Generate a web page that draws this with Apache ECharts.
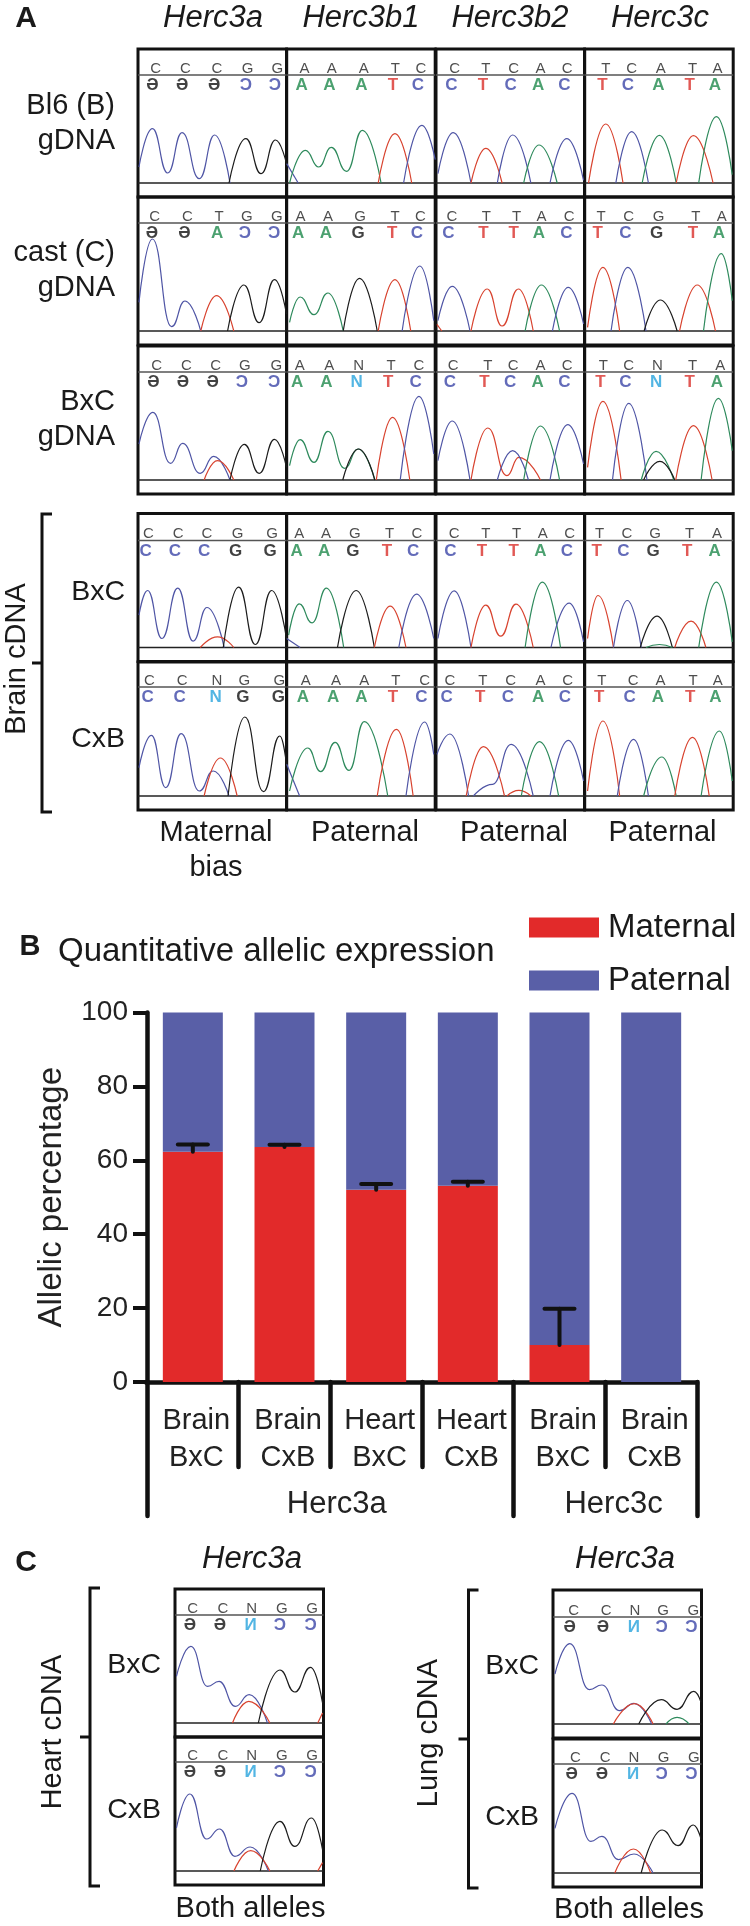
<!DOCTYPE html>
<html><head><meta charset="utf-8">
<style>html,body{margin:0;padding:0;background:#fff}#c{width:750px;height:1926px}</style>
<script src="https://cdn.jsdelivr.net/npm/echarts@6/dist/echarts.min.js"></script>
</head><body><div id="c"></div>
<script>
// ---- Panel B data ----
const barCategories = ['Brain\nBxC','Brain\nCxB','Heart\nBxC','Heart\nCxB','Brain\nBxC','Brain\nCxB'];
const maternal = [62.3,63.6,52,53.1,10,0];
const paternal = [37.7,36.4,48,46.9,90,100];
const errorTop = [64.3,64.2,53.6,54.2,19.8,null];
const geneGroups = ['Herc3a','Herc3c'];

// ---- Chromatogram traces: [colour code, [x,height,...]] ----
const bl6_3a = [['b',[2,48,30,163,62,30,92,151,128,13,160,144,192,0]],['k',[190,0,225,133,257,28,287,129,310,58]]];
const bl6_3b1 = [['b',[0,58,24,0]],['g',[6,0,39,98,67,48,93,107,125,35,158,158,197,0]],['r',[191,0,226,148,261,0]],['b',[244,0,282,173,310,70]]];
const bl6_3b2 = [['b',[4,28,36,151,73,0]],['r',[73,0,104,104,138,0]],['b',[128,0,160,144,198,0]],['g',[183,0,215,114,253,0]],['b',[238,0,273,133,308,8]]];
const bl6_3c = [['r',[8,0,44,177,80,0]],['b',[65,0,98,154,133,0]],['g',[120,0,156,143,191,0]],['r',[191,0,227,142,268,0]],['g',[238,0,275,199,308,25]]];

const cast_3a = [['b',[2,86,30,276,70,13,98,90,131,0]],['r',[131,0,164,106,200,0]],['k',[187,0,221,138,253,25,285,154,310,51]]];
const cast_3b1 = [['g',[6,26,28,102,57,49,86,114,118,0]],['k',[118,0,152,158,189,0]],['r',[191,0,226,154,259,0]],['b',[241,0,278,195,307,31]]];
const cast_3b2 = [['r',[2,20,12,0]],['b',[4,31,34,134,71,0]],['r',[73,0,107,126,138,15,172,126,203,0]],['g',[186,0,220,138,258,0]],['b',[243,0,276,131,308,21]]];
const cast_3c = [['r',[6,11,38,191,73,0]],['b',[55,0,90,191,128,0]],['k',[124,0,158,93,193,0]],['r',[198,0,235,138,273,0]],['g',[248,0,285,232,308,91]]];

const bxc_3a = [['b',[2,108,31,203,68,50,93,110,130,20,158,71,192,0]],['r',[138,0,166,58,200,0]],['k',[192,0,222,107,253,20,285,122,310,38]]];
const bxc_3b1 = [['g',[6,43,28,121,57,53,86,146,121,35,149,93,184,0]],['k',[117,0,150,93,184,0]],['r',[187,0,221,188,257,0]],['b',[237,0,276,251,307,78]]];
const bxc_3b2 = [['b',[4,58,34,177,71,0]],['r',[73,0,108,156,148,13,173,68,218,0]],['b',[128,0,160,88,193,0]],['g',[183,0,218,162,258,0]],['b',[238,0,275,166,308,48]]];
const bxc_3c = [['r',[6,38,38,236,76,0]],['b',[58,0,92,230,130,0]],['g',[118,0,149,86,186,0]],['k',[123,0,157,56,188,0]],['r',[190,0,227,163,266,0]],['g',[243,0,279,245,308,88]]];

const cBxc_3a = [['b',[2,97,20,171,50,27,83,178,115,19,144,120,180,0]],['r',[130,0,166,32,200,0]],['k',[178,0,210,181,245,9,279,171,310,27]]];
const cBxc_3b1 = [['b',[0,27,28,0]],['g',[4,37,26,131,53,74,83,178,119,0]],['k',[106,0,145,171,183,0]],['r',[183,0,216,124,249,0]],['b',[234,0,271,160,307,27]]];
const cBxc_3b2 = [['b',[4,27,38,170,73,0]],['r',[73,0,104,127,135,34,167,130,203,0]],['g',[186,0,222,196,260,0]],['b',[240,0,278,133,308,17]]];
const cBxc_3c = [['r',[6,27,28,156,60,0]],['b',[60,0,89,141,118,0]],['k',[116,0,151,94,183,0]],['g',[128,0,156,9,183,0]],['r',[188,0,222,79,253,0]],['g',[238,0,275,196,308,17]]];

const cCxb_3a = [['b',[2,85,28,182,58,25,90,187,128,15,157,75,190,0]],['r',[138,0,172,114,207,0]],['k',[188,0,223,237,262,13,296,180,310,95]]];
const cCxb_3b1 = [['b',[0,95,27,0]],['g',[6,15,44,144,71,73,101,161,130,77,162,223,211,0]],['r',[189,0,229,200,264,0]],['b',[249,0,288,222,307,125]]];
const cCxb_3b2 = [['b',[2,125,29,186,68,0]],['r',[63,0,99,148,143,0]],['b',[78,0,118,35,157,155,203,0]],['r',[148,0,173,17,198,0]],['g',[178,0,216,163,256,0]],['b',[238,0,276,167,308,45]]];
const cCxb_3c = [['r',[6,15,38,225,73,0]],['b',[68,0,102,170,133,0]],['g',[123,0,161,117,191,0]],['r',[188,0,225,176,260,0]],['g',[243,0,281,195,308,45]]];

const heartBxc = [['b',[3,140,33,230,68,110,92,125,126,50,155,85,193,0]],['r',[120,0,154,65,198,0]],['k',[174,0,219,159,250,93,283,167,308,60]],['r',[298,0,308,30]]];
const heartCxb = [['b',[3,129,31,231,66,96,93,126,125,44,157,72,195,0]],['r',[123,0,158,61,198,0]],['k',[178,0,219,149,250,74,285,159,308,64]],['r',[298,0,308,25]]];
const lungBxc = [['b',[4,150,35,241,76,103,102,117,139,40,169,62,206,0]],['r',[126,0,170,61,209,0]],['k',[179,0,226,73,259,44,294,98,309,65]],['g',[236,0,259,20,284,0]]];
const lungCxb = [['b',[4,134,40,239,79,95,102,110,137,40,169,57,209,0]],['r',[129,0,168,72,204,0]],['k',[184,0,228,129,261,82,293,144,309,102]]];

// ---- Base-call letters: [upper letters, upper x, lower letters, lower x] ----
const seqs = [
 ['CCCGG',[37,99,165,229,291],'ӘӘӘƆƆ',[30,92,159,225,286]],
 ['AAATC',[37,94,161,227,280],'AAATC',[31,89,156,222,274]],
 ['CTCAC',[39,104,162,218,274],'CTCAC',[32,98,156,213,268]],
 ['TCATA',[44,98,159,225,277],'TCATA',[37,90,154,219,272]],
 ['CCTGG',[35,103,169,227,290],'ӘӘAƆƆ',[29,97,165,223,284]],
 ['AAGTC',[29,86,153,226,279],'AAGTC',[24,82,149,220,272]],
 ['CTTAC',[33,105,168,220,278],'CTTAC',[26,99,162,215,272]],
 ['TCGTA',[34,92,154,232,286],'TCGTA',[27,85,150,226,280]],
 ['CCCGG',[39,101,162,223,289],'ӘӘӘƆƆ',[32,94,156,217,284]],
 ['AANTC',[27,89,150,218,276],'AANTC',[22,83,146,212,269]],
 ['CTCAC',[36,108,161,218,274],'CTCAC',[29,101,155,212,268]],
 ['TCNTA',[39,92,152,225,283],'TCNTA',[33,85,149,219,276]],
 ['CCCGG',[22,84,144,208,280],'CCCGG',[16,77,138,204,276]],
 ['AAGTC',[26,82,142,215,272],'AAGTC',[21,78,138,209,264]],
 ['CTTAC',[38,104,168,223,279],'CTTAC',[30,96,162,218,273]],
 ['TCGTA',[31,88,147,219,276],'TCGTA',[25,81,143,214,271]],
 ['CCNGG',[24,92,165,222,295],'CCNGG',[20,87,162,219,293]],
 ['AAATC',[40,103,162,228,288],'AAATC',[34,97,156,222,281]],
 ['CTCAC',[29,98,156,218,275],'CTCAC',[22,92,150,213,269]],
 ['TCATA',[36,101,158,226,278],'TCATA',[30,94,153,220,273]],
 ['CCNGG',[37,100,160,223,286],'ӘӘИƆƆ',[31,94,158,219,283]],
 ['CCNGG',[37,100,160,223,286],'ӘӘИƆƆ',[31,94,158,219,283]],
 ['CCNGG',[43,111,171,230,293],'ӘӘИƆƆ',[35,104,169,227,289]],
 ['CCNGG',[47,109,169,231,294],'ӘӘИƆƆ',[39,102,167,227,289]]
];
const traces = [bl6_3a,bl6_3b1,bl6_3b2,bl6_3c,cast_3a,cast_3b1,cast_3b2,cast_3c,bxc_3a,bxc_3b1,bxc_3b2,bxc_3c,
  cBxc_3a,cBxc_3b1,cBxc_3b2,cBxc_3c,cCxb_3a,cCxb_3b1,cCxb_3b2,cCxb_3c,heartBxc,heartCxb,lungBxc,lungCxb];

// ---- Layout ----
const colLeft = [138,286.7,436,584.7], panelW = 148.5, panelH = 148;
const rowTop = [49,197,346,513.5,662];
const headerY = [324,324,324,321,327];   // header rule in panel units
const extraPanels = [[175,1589,324],[175,1737,327],[553,1590,321],[553,1739,327]];
const traceColor = {b:'#4f55a5',r:'#d8432f',g:'#2e8a5c',k:'#1c1c1c'};
const letterColor = {A:'#1f8a4c',T:'#d9302a',C:'#3c46a8',G:'#111',N:'#27a3dc','Ә':'#111','Ɔ':'#3c46a8','И':'#27a3dc'};
const FONT = '"Liberation Sans",Arial,sans-serif';
const NARROW = '"Liberation Sans Narrow","Liberation Sans",sans-serif';

const panelBoxes = [];
rowTop.forEach((t,r)=>colLeft.forEach(l=>panelBoxes.push([l,t,headerY[r]])));
extraPanels.forEach(p=>panelBoxes.push(p));

const grids=[],xAxes=[],yAxes=[],series=[];
panelBoxes.forEach((p,i)=>{
  grids.push({left:p[0],top:p[1],width:panelW,height:panelH,show:true,borderColor:'#111',borderWidth:3,backgroundColor:'transparent'});
  xAxes.push({gridIndex:i,type:'value',min:0,max:310,show:false});
  yAxes.push({gridIndex:i,type:'value',min:-42,max:402,show:false});
  const base={type:'line',xAxisIndex:i,yAxisIndex:i,symbol:'none',silent:true,z:3};
  series.push({...base,data:[[0,p[2]],[310,p[2]]],lineStyle:{color:'#555',width:1.6}});
  series.push({...base,data:[[0,0],[310,0]],lineStyle:{color:'#222',width:1.5}});
  traces[i].forEach(tr=>{
    const pts=[];for(let k=0;k<tr[1].length;k+=2)pts.push([tr[1][k],tr[1][k+1]]);
    series.push({...base,data:pts,smooth:0.5,smoothMonotone:'x',lineStyle:{color:traceColor[tr[0]],width:1.2}});
  });
  const s=seqs[i];
  const letters=(txt,xs,y,bold)=>({type:'scatter',xAxisIndex:i,yAxisIndex:i,symbolSize:1,silent:true,z:4,
    itemStyle:{color:'transparent'},
    data:txt.split('').map((c,k)=>({value:[xs[k],y],name:c,
      label:{show:true,position:'inside',formatter:'{b}',fontFamily:NARROW,
        fontSize:bold?17:15,fontWeight:bold?'bold':'normal',
        color:bold?letterColor[c]:'#222'}}))});
  series.push(letters(s[0],s[1],p[2]+19,false));
  series.push(letters(s[2],s[3],p[2]-31,true));
});

// ---- Bar chart grid ----
const bi=grids.length;
grids.push({left:147,top:1012.5,width:550,height:369.5});
xAxes.push({gridIndex:bi,type:'category',data:barCategories,position:'bottom',
  axisLine:{onZero:false,lineStyle:{color:'#111',width:4.5,cap:'square'}},
  axisTick:{show:true,length:85,lineStyle:{color:'#111',width:4.5,cap:'round'}},
  axisLabel:{color:'#222',fontFamily:FONT,fontSize:29,lineHeight:37,margin:20,interval:0,padding:[0,0,0,7]}});
xAxes.push({gridIndex:bi,type:'value',min:0,max:6,position:'bottom',
  axisLine:{show:false},splitLine:{show:false},
  axisTick:{show:true,length:134,customValues:[0,4,6],lineStyle:{color:'#111',width:4.5,cap:'round'}},
  axisLabel:{show:true,customValues:[2.07,5.09],margin:107,color:'#222',fontFamily:FONT,fontSize:31,
    formatter:v=>v<4?geneGroups[0]:geneGroups[1]}});
yAxes.push({gridIndex:bi,type:'value',min:0,max:100,interval:20,
  axisLine:{show:true,lineStyle:{color:'#111',width:4.5}},
  axisTick:{show:true,length:14,lineStyle:{color:'#111',width:4}},
  splitLine:{show:false},
  axisLabel:{color:'#222',fontFamily:FONT,fontSize:28,margin:19},
  name:'Allelic percentage',nameLocation:'middle',nameGap:79,nameRotate:90,
  nameTextStyle:{color:'#222',fontFamily:FONT,fontSize:33}});
const by=bi;
series.push({name:'Maternal',type:'bar',stack:'a',xAxisIndex:bi,yAxisIndex:by,data:maternal,barWidth:60,itemStyle:{color:'#e22a2a'},z:2});
series.push({name:'Paternal',type:'bar',stack:'a',xAxisIndex:bi,yAxisIndex:by,data:paternal,barWidth:60,itemStyle:{color:'#595fa7'},z:2});
series.push({type:'custom',xAxisIndex:bi,yAxisIndex:by,z:5,silent:true,
  data:errorTop.map((v,i)=>[i,maternal[i],v]).filter(d=>d[2]!=null),
  encode:{x:0,y:[1,2]},
  renderItem:(params,api)=>{
    const a=api.coord([api.value(0),api.value(1)]),b=api.coord([api.value(0),api.value(2)]);
    const st={stroke:'#111',lineWidth:4,lineCap:'round'};
    return {type:'group',children:[
      {type:'line',shape:{x1:a[0],y1:a[1],x2:b[0],y2:b[1]},style:st},
      {type:'line',shape:{x1:b[0]-15,y1:b[1],x2:b[0]+15,y2:b[1]},style:st}]};
  }});

// ---- Static text ----
const txt=(text,x,y,size,o={})=>({type:'text',x,y,rotation:o.rot||0,z:10,
  style:{text,fill:'#1a1a1a',font:`${o.italic?'italic ':''}${o.bold?'bold ':''}${size}px "Liberation Sans",Arial,sans-serif`,
    textAlign:o.align||'center',textVerticalAlign:'middle'}});
const R90=Math.PI/2;
const colCentres=[213,361,510,660], outcomes=['Maternal','Paternal','Paternal','Paternal'];
const headers=['Herc3a','Herc3b1','Herc3b2','Herc3c'];
const graphics=[
  txt('A',26,19,30,{bold:true}),
  ...headers.map((h,i)=>txt(h,colCentres[i],18,31,{italic:true})),
  txt('Bl6 (B)',115,106,29,{align:'right'}),txt('gDNA',115,141,29,{align:'right'}),
  txt('cast (C)',115,253,29,{align:'right'}),txt('gDNA',115,288,29,{align:'right'}),
  txt('BxC',115,402,29,{align:'right'}),txt('gDNA',115,437,29,{align:'right'}),
  txt('BxC',125,592,28.5,{align:'right'}),txt('CxB',125,739,28.5,{align:'right'}),
  txt('Brain cDNA',17,659,29,{rot:R90}),
  ...outcomes.map((h,i)=>txt(h,[216,365,514,662.5][i],833,29)),
  txt('bias',216,868,29),
  txt('B',30,946.5,29,{bold:true}),
  txt('Quantitative allelic expression',58,952,33,{align:'left'}),
  txt('C',26,1563,30,{bold:true}),
  txt('Herc3a',252,1559,31,{italic:true}),txt('Herc3a',625,1559,31,{italic:true}),
  txt('BxC',161,1665,28.5,{align:'right'}),txt('CxB',161,1810,28.5,{align:'right'}),
  txt('BxC',539,1666,28.5,{align:'right'}),txt('CxB',539,1817,28.5,{align:'right'}),
  txt('Heart cDNA',53,1732,29,{rot:R90}),txt('Lung cDNA',429,1733,29,{rot:R90}),
  txt('Both alleles',250.5,1909,29),txt('Both alleles',629,1910,29)
];
const bracket=(x,y1,y2)=>({type:'polyline',z:10,shape:{points:[[x+10,y1],[x,y1],[x,y2],[x+10,y2]]},style:{stroke:'#111',lineWidth:3,fill:null}});
const brTick=(x,ym)=>({type:'line',z:10,shape:{x1:x-10,y1:ym,x2:x,y2:ym},style:{stroke:'#111',lineWidth:3}});
[[42,514,812,663],[90,1588,1886,1737],[468.5,1590,1888,1739]].forEach(b=>{graphics.push(bracket(b[0],b[1],b[2]),brTick(b[0],b[3]));});

const chart=echarts.init(document.getElementById('c'),null,{renderer:'canvas'});
chart.setOption({
  animation:false,backgroundColor:'#fff',
  grid:grids,xAxis:xAxes,yAxis:yAxes,series,
  legend:{show:true,data:['Maternal','Paternal'],orient:'vertical',left:529,top:911,itemWidth:70,itemHeight:20,itemGap:20,
    icon:'rect',selectedMode:false,textStyle:{color:'#1a1a1a',fontFamily:FONT,fontSize:33,padding:[0,0,0,4]},padding:0},
  graphic:graphics
});
</script></body></html>
